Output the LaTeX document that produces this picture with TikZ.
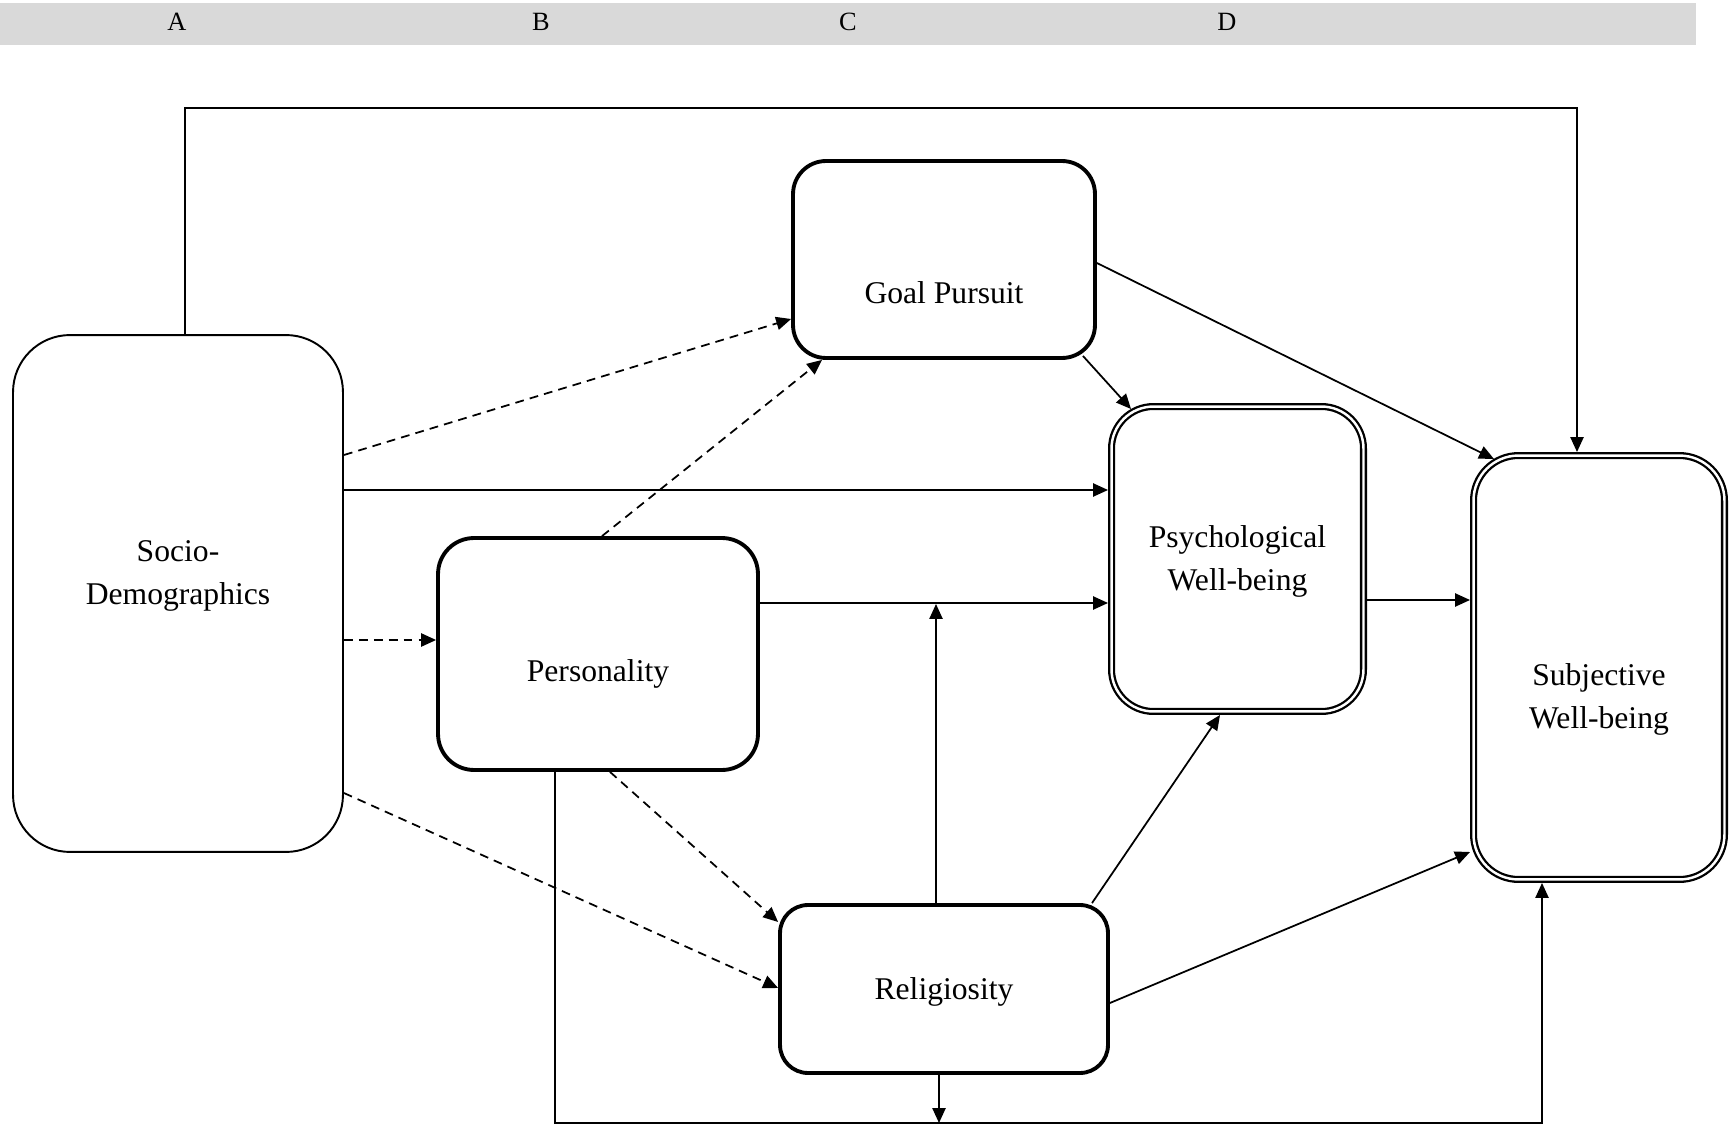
\documentclass[tikz,border=0pt]{standalone}
\usepackage{fontspec}
\setmainfont{Liberation Serif}
\usetikzlibrary{arrows.meta}
\definecolor{hdrgray}{HTML}{D9D9D9}
\begin{document}
\begin{tikzpicture}[x=0.02cm,y=-0.02cm,
  every label/.style={font=\fontsize{18}{24.5}\selectfont, align=center, inner sep=0pt},
  base/.style={draw, fill=white, inner sep=0pt, rectangle},
  thinbox/.style={base, line width=1.1pt, outer sep=0.55pt},
  thickbox/.style={base, line width=2.2pt, outer sep=1.1pt},
  dblbox/.style={base, line width=1.3pt, double, double distance=1.4pt, outer sep=2pt},
  conn/.style={line width=1pt},
  arr/.style={conn, -{Triangle[length=8.5pt,width=7.5pt]}},
  darr/.style={arr, dash pattern=on 5pt off 3.5pt},
  hdr/.style={font=\fontsize{15}{18}\selectfont, inner sep=0pt}
]
\useasboundingbox (0,0) rectangle (1735,1125);

% header band
\fill[hdrgray] (0,3) rectangle (1696,45);
\node[hdr] (hA) at (177,22) {A};
\node[hdr] (hB) at (541,22) {B};
\node[hdr] (hC) at (848,22) {C};
\node[hdr] (hD) at (1227,22) {D};

% boxes
\node[thinbox, minimum width=6.6cm, minimum height=10.34cm, rounded corners=1.14cm,
      label={[yshift=0.36cm]center:{Socio-\\Demographics}}] (soc) at (178,593.5) {};
\node[thickbox, minimum width=6.4cm, minimum height=4.64cm, rounded corners=0.72cm,
      label={[yshift=-0.40cm]center:Personality}] (pers) at (598,654) {};
\node[thickbox, minimum width=6.04cm, minimum height=3.94cm, rounded corners=0.66cm,
      label={[yshift=-0.67cm]center:Goal Pursuit}] (gp) at (944,259.5) {};
\node[thickbox, minimum width=6.56cm, minimum height=3.36cm, rounded corners=0.56cm,
      label={[yshift=-0.066cm]center:Religiosity}] (rel) at (944,989) {};
\node[dblbox, minimum width=5.04cm, minimum height=6.1cm, rounded corners=0.84cm,
      label={[yshift=-0.044cm]center:{Psychological\\Well-being}}] (pwb) at (1237.5,559) {};
\node[dblbox, minimum width=5.02cm, minimum height=8.48cm, rounded corners=0.9cm,
      label={[yshift=-0.646cm]center:{Subjective\\Well-being}}] (swb) at (1599,667.5) {};

% helper coordinates
\coordinate (tl) at (185,108);
\coordinate (tr) at (1577,108);
\coordinate (j) at (936,604);
\coordinate (b1) at (555,1123);
\coordinate (b2) at (1542,1123);
\coordinate (b3) at (939,1123);

% connectors
\draw[arr] (soc.north -| tl) -- (tl) -- (tr) -- (swb.north -| tr);
\draw[darr] (soc.east |- 0,455) -- (gp.west |- 0,319);
\draw[arr] (soc.east |- 0,490) -- (pwb.west |- 0,490);
\draw[darr] (soc.east |- 0,640) -- (pers.west |- 0,640);
\draw[darr] (soc.east |- 0,793) -- (rel.west |- 0,988);
\draw[darr] (pers.north -| 602,0) -- (gp.south -| 822,0);
\draw[darr] (pers.south -| 610,0) -- (rel.west |- 0,922);
\draw[arr] (pers.east |- 0,603) -- (pwb.west |- 0,603);
\draw[arr] (rel.north -| j) -- (j);
\draw[arr] (rel.north -| 1092,0) -- (pwb.south -| 1220,0);
\draw[arr] (rel.east |- 0,1003) -- (swb.west |- 0,852);
\draw[arr] (gp.east |- 0,263) -- ([shift={(24,7)}]swb.north west);
\draw[arr] ([shift={(-14,-4)}]gp.south east) -- ([shift={(23,6)}]pwb.north west);
\draw[arr] (pwb.east |- 0,600) -- (swb.west |- 0,600);
\draw[arr] (pers.south -| b1) -- (b1) -- (b2) -- (swb.south -| b2);
\draw[arr] (rel.south -| b3) -- (b3);
\end{tikzpicture}
\end{document}
